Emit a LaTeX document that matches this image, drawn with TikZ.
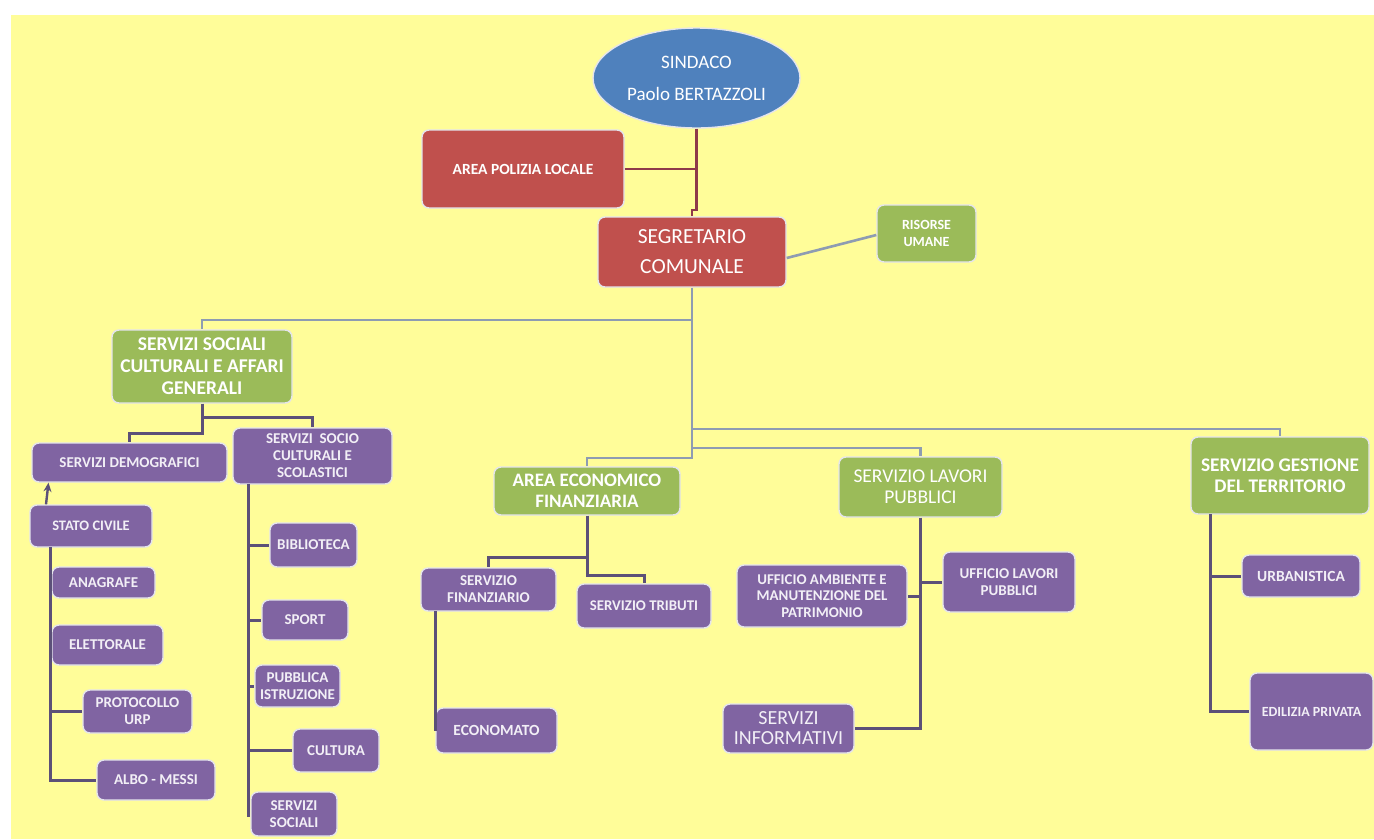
\documentclass[tikz,border=0pt]{standalone}
\usepackage{fontspec}
\setmainfont{Carlito}
\usetikzlibrary{arrows.meta,shapes.geometric}
\definecolor{bgyellow}{HTML}{FFFD99}
\definecolor{sblue}{HTML}{4F81BD}
\definecolor{sred}{HTML}{C0504D}
\definecolor{sgreen}{HTML}{9BBB59}
\definecolor{spurple}{HTML}{8064A2}
\definecolor{lgray}{HTML}{8E9CB2}
\definecolor{ldark}{HTML}{5C5078}
\definecolor{lmaroon}{HTML}{8E3A4A}
\definecolor{edgecol}{HTML}{E4E4EC}
\tikzset{
 orgbox/.style={rectangle, rounded corners=7pt, draw=edgecol, line width=1.4pt, text=white, align=center, inner sep=1pt},
 redbox/.style={orgbox, fill=sred},
 greenbox/.style={orgbox, fill=sgreen},
 purplebox/.style={orgbox, fill=spurple, text=white!90!spurple},
 gline/.style={draw=lgray, line width=2.6pt},
 dline/.style={draw=ldark, line width=3pt},
 mline/.style={draw=lmaroon, line width=2.8pt},
}
\begin{document}
\begin{tikzpicture}[x=1pt,y=-1pt]
\useasboundingbox (0,0) rectangle (1374,839);
\fill[white] (0,0) rectangle (1374,839);
\fill[bgyellow] (11,15) rectangle (1374,839);

% ---------- top ----------
\node[ellipse, fill=sblue, draw=edgecol, line width=1.4pt, minimum width=207pt, minimum height=100pt, inner sep=0pt, text=white, align=center, font=\fontsize{19}{32}\selectfont] (sindaco) at (696.5,78) {SINDACO\\Paolo BERTAZZOLI};
\node[redbox, minimum width=202pt, minimum height=78pt, font=\bfseries\fontsize{15.5}{18}\selectfont] (polizia) at (523,169) {AREA POLIZIA LOCALE};
\node[redbox, minimum width=188pt, minimum height=70pt, font=\fontsize{21.5}{30}\selectfont] (segretario) at (692,252) {SEGRETARIO\\COMUNALE};
\node[greenbox, minimum width=99pt, minimum height=57pt, font=\bfseries\fontsize{14}{17}\selectfont] (risorse) at (926.5,233.5) {RISORSE\\UMANE};

% ---------- level 2 ----------
\node[greenbox, minimum width=180pt, minimum height=73pt, font=\bfseries\fontsize{19.5}{22}\selectfont] (sociali) at (202,366.5) {SERVIZI SOCIALI\\CULTURALI E AFFARI\\GENERALI};
\node[greenbox, minimum width=186pt, minimum height=48pt, font=\bfseries\fontsize{19}{21}\selectfont] (areaecon) at (587,491) {AREA ECONOMICO\\FINANZIARIA};
\node[greenbox, minimum width=163pt, minimum height=60pt, font=\fontsize{19.5}{21}\selectfont] (lavori) at (920.5,487) {SERVIZIO LAVORI\\PUBBLICI};
\node[greenbox, minimum width=178pt, minimum height=77pt, font=\bfseries\fontsize{19.3}{20.5}\selectfont] (gestione) at (1280,475.5) {SERVIZIO GESTIONE\\DEL TERRITORIO};

% ---------- servizi sociali subtree ----------
\node[purplebox, minimum width=195pt, minimum height=39pt, font=\bfseries\fontsize{15}{17}\selectfont] (demografici) at (129.5,462.5) {SERVIZI DEMOGRAFICI};
\node[purplebox, minimum width=159pt, minimum height=56pt, font=\bfseries\fontsize{15}{17}\selectfont] (socio) at (312.5,456) {SERVIZI\ \ SOCIO\\CULTURALI E\\SCOLASTICI};
\node[purplebox, minimum width=122pt, minimum height=42pt, font=\bfseries\fontsize{14.5}{17}\selectfont] (statocivile) at (91,526) {STATO CIVILE};
\node[purplebox, minimum width=103pt, minimum height=31pt, font=\bfseries\fontsize{15}{17}\selectfont] (anagrafe) at (103.5,582.5) {ANAGRAFE};
\node[purplebox, minimum width=111pt, minimum height=40pt, font=\bfseries\fontsize{15}{17}\selectfont] (elettorale) at (107.5,645) {ELETTORALE};
\node[purplebox, minimum width=109pt, minimum height=43pt, font=\bfseries\fontsize{15}{17}\selectfont] (protocollo) at (137.5,711.5) {PROTOCOLLO\\URP};
\node[purplebox, minimum width=118pt, minimum height=40pt, font=\bfseries\fontsize{15}{17}\selectfont] (albo) at (156,780) {ALBO - MESSI};
\node[purplebox, minimum width=87pt, minimum height=44pt, font=\bfseries\fontsize{15}{17}\selectfont] (biblioteca) at (313.5,545) {BIBLIOTECA};
\node[purplebox, minimum width=86pt, minimum height=40pt, font=\bfseries\fontsize{15}{17}\selectfont] (sport) at (305,620) {SPORT};
\node[purplebox, minimum width=85pt, minimum height=42pt, inner sep=0pt, font=\bfseries\fontsize{15}{17}\selectfont] (pubblica) at (297.5,686) {PUBBLICA\\ISTRUZIONE};
\node[purplebox, minimum width=86pt, minimum height=43pt, font=\bfseries\fontsize{15}{17}\selectfont] (cultura) at (336,750.5) {CULTURA};
\node[purplebox, minimum width=86pt, minimum height=44pt, font=\bfseries\fontsize{15}{17}\selectfont] (servsoc) at (294,814) {SERVIZI\\SOCIALI};

% ---------- area economico subtree ----------
\node[purplebox, minimum width=135pt, minimum height=43pt, font=\bfseries\fontsize{15}{17}\selectfont] (finanziario) at (488.5,589.5) {SERVIZIO\\FINANZIARIO};
\node[purplebox, minimum width=134pt, minimum height=44pt, font=\bfseries\fontsize{14.8}{17}\selectfont] (tributi) at (644,606) {SERVIZIO TRIBUTI};
\node[purplebox, minimum width=121pt, minimum height=45pt, font=\bfseries\fontsize{15.5}{17}\selectfont] (economato) at (496.5,730.5) {ECONOMATO};

% ---------- lavori pubblici subtree ----------
\node[purplebox, minimum width=170pt, minimum height=62pt, font=\bfseries\fontsize{14.9}{16.5}\selectfont] (ambiente) at (822,596) {UFFICIO AMBIENTE E\\MANUTENZIONE DEL\\PATRIMONIO};
\node[purplebox, minimum width=132pt, minimum height=60pt, font=\bfseries\fontsize{15}{17}\selectfont] (ufflavori) at (1009,582) {UFFICIO LAVORI\\PUBBLICI};
\node[purplebox, minimum width=131pt, minimum height=49pt, font=\fontsize{20}{20}\selectfont] (informativi) at (788.5,728.5) {SERVIZI\\INFORMATIVI};

% ---------- gestione subtree ----------
\node[purplebox, minimum width=118pt, minimum height=42pt, font=\bfseries\fontsize{15.5}{17}\selectfont] (urbanistica) at (1301,576) {URBANISTICA};
\node[purplebox, minimum width=123pt, minimum height=77pt, font=\bfseries\fontsize{14}{17}\selectfont] (edilizia) at (1311.5,711.5) {EDILIZIA PRIVATA};

% ---------- connectors: top ----------
\coordinate (j1) at (696.5,210);
\draw[mline] (sindaco.south) -- (j1) -| (segretario.north);
\draw[mline] (polizia.east) -- (polizia.east -| sindaco.south);
\draw[gline] ([yshift=-6pt]segretario.east) -- ([yshift=-1.5pt]risorse.west);

% main trunk
\coordinate (t0) at (692,320);
\coordinate (t1) at (692,429);
\coordinate (t2) at (692,448);
\coordinate (t3) at (692,458);
\draw[gline] (segretario.south) -- (t3) -| (areaecon.north);
\draw[gline] (t0) -| (sociali.north);
\draw[gline] (t1) -| (gestione.north);
\draw[gline] (t2) -| (lavori.north);

% servizi sociali subtree
\coordinate (a1) at (202,417);
\coordinate (a2) at (202,433);
\draw[dline] (sociali.south) -- (a2) -| (demografici.north);
\draw[dline] (a1) -| (socio.north);

\coordinate (d0) at (50,547);
\draw[dline] (d0) |- (albo.west);
\draw[dline] (d0 |- anagrafe.west) -- (anagrafe.west);
\draw[dline] (d0 |- elettorale.west) -- (elettorale.west);
\draw[dline] (d0 |- protocollo.west) -- (protocollo.west);
\draw[ldark, line width=2.4pt, -{Stealth[length=9pt,width=8pt]}] ([xshift=-45pt]statocivile.north) -- ([xshift=-81pt]demografici.south);

\coordinate (s0) at (248,484);
\draw[dline] (s0) -- (s0 |- 0,817);
\draw[dline] (s0 |- biblioteca.west) -- (biblioteca.west);
\draw[dline] (s0 |- sport.west) -- (sport.west);
\draw[dline] (s0 |- pubblica.west) -- (pubblica.west);
\draw[dline] (s0 |- cultura.west) -- (cultura.west);
\draw[dline] (s0 |- servsoc.west) -- (servsoc.west);

% area economico subtree
\coordinate (e1) at (587,557);
\coordinate (e2) at (587,575);
\draw[dline] (areaecon.south) -- (e2) -| (tributi.north);
\draw[dline] (e1) -| (finanziario.north);
\coordinate (f0) at (435,611);
\draw[dline] (f0) -- (f0 |- economato.west);

% lavori pubblici subtree
\coordinate (l0) at (920.5,517);
\draw[dline] (lavori.south) |- (informativi.east);
\draw[dline] (l0 |- ufflavori.west) -- (ufflavori.west);
\draw[dline] (l0 |- ambiente.east) -- (ambiente.east);

% gestione subtree
\coordinate (g0) at (1210,514);
\draw[dline] (g0) |- (edilizia.west);
\draw[dline] (g0 |- urbanistica.west) -- (urbanistica.west);
\end{tikzpicture}
\end{document}
